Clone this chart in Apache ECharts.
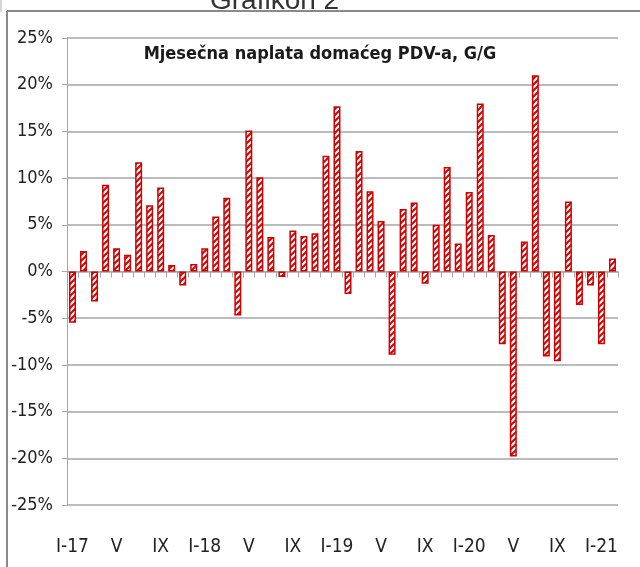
<!DOCTYPE html>
<html>
<head>
<meta charset="utf-8">
<script src="https://cdn.jsdelivr.net/npm/echarts@6/dist/echarts.min.js"></script>
<style>
    html, body { margin: 0; padding: 0; background: #fff; }
    #chart { width: 640px; height: 567px; }
</style>
</head>
<body>
<div id="chart"></div>
<script>
    // mjeseci od I-17 do II-21
    const months = [
        'I-17', 'II', 'III', 'IV', 'V', 'VI', 'VII', 'VIII', 'IX', 'X', 'XI', 'XII',
        'I-18', 'II', 'III', 'IV', 'V', 'VI', 'VII', 'VIII', 'IX', 'X', 'XI', 'XII',
        'I-19', 'II', 'III', 'IV', 'V', 'VI', 'VII', 'VIII', 'IX', 'X', 'XI', 'XII',
        'I-20', 'II', 'III', 'IV', 'V', 'VI', 'VII', 'VIII', 'IX', 'X', 'XI', 'XII',
        'I-21', 'II'
    ];
    // naplata PDV-a, G/G (%)
    const vatGrowth = [
        -5.5, 2.2, -3.2, 9.3, 2.5, 1.8, 11.7, 7.1, 9.0, 0.7, -1.5, 0.8,
        2.5, 5.9, 7.9, -4.7, 15.1, 10.1, 3.7, -0.6, 4.4, 3.8, 4.1, 12.4,
        17.7, -2.4, 12.9, 8.6, 5.4, -8.9, 6.7, 7.4, -1.3, 5.0, 11.2, 3.0,
        8.5, 18.0, 3.9, -7.8, -19.8, 3.2, 21.0, -9.1, -9.6, 7.5, -3.6, -1.5,
        -7.8, 1.4
    ];
    const yMin = -25, yMax = 25, yStep = 5;

    const fontNarrow = '"Liberation Sans Narrow", "DejaVu Sans Condensed", "Open Sans", sans-serif';

    // šrafura za stupce
    function makeHatch() {
        let c = document.createElement('canvas');
        c.width = 6;
        c.height = 6;
        let ctx = c.getContext('2d');
        ctx.fillStyle = '#ffffff';
        ctx.fillRect(0, 0, 6, 6);
        ctx.strokeStyle = '#d80000';
        ctx.lineWidth = 2;
        ctx.beginPath();
        ctx.moveTo(-1, 7); ctx.lineTo(7, -1);
        ctx.moveTo(-1, 1); ctx.lineTo(1, -1);
        ctx.moveTo(5, 7); ctx.lineTo(7, 5);
        ctx.stroke();
        return c;
    }

    let mChart = echarts.init(document.getElementById('chart'), null, { renderer: 'canvas' });
    let options = {
        animation: false,
        grid: { left: 67, right: 22, top: 38, bottom: 62 },
        graphic: [
            { type: 'line', shape: { x1: 7, y1: 11, x2: 640, y2: 11 }, style: { stroke: '#8a8a8a', lineWidth: 2 } },
            { type: 'line', shape: { x1: 7, y1: 11, x2: 7, y2: 567 }, style: { stroke: '#8a8a8a', lineWidth: 2 } },
            { type: 'line', shape: { x1: 1, y1: 0, x2: 1, y2: 12 }, style: { stroke: '#b0b0b0', lineWidth: 1 } },
            {
                type: 'text', left: 210, top: -13, z: -1,
                style: { text: 'Grafikon 2', fontSize: 28, fontFamily: '"Liberation Sans", Arial, sans-serif', fill: '#333' }
            },
            {
                type: 'text', left: 'center', top: 45,
                style: { text: 'Mjesečna naplata domaćeg PDV-a, G/G', fontSize: 18, fontWeight: 'bold', fontFamily: fontNarrow, fill: '#1a1a1a' }
            }
        ],
        xAxis: [
            {
                type: 'category',
                data: months,
                axisLine: { onZero: true, lineStyle: { color: '#a6a6a6', width: 1 } },
                axisTick: { show: true, interval: 0, length: 6, lineStyle: { color: '#a6a6a6' } },
                axisLabel: { show: false },
                splitLine: { show: false }
            },
            {
                type: 'category',
                data: months,
                position: 'bottom',
                axisLine: { show: false },
                axisTick: { show: false },
                axisLabel: {
                    interval: 3,
                    margin: 33,
                    fontSize: 19,
                    color: '#222',
                    fontFamily: fontNarrow
                }
            }
        ],
        yAxis: {
            type: 'value',
            min: yMin,
            max: yMax,
            interval: yStep,
            axisLine: { show: true, lineStyle: { color: '#a6a6a6' } },
            axisTick: { show: true, length: 5, lineStyle: { color: '#a6a6a6' } },
            axisLabel: {
                formatter: '{value}%',
                margin: 14,
                fontSize: 18,
                color: '#222',
                fontFamily: fontNarrow
            },
            splitLine: { show: true, lineStyle: { color: '#a6a6a6', width: 1.5 } }
        },
        series: [
            {
                type: 'bar',
                xAxisIndex: 0,
                data: vatGrowth,
                barWidth: 7,
                itemStyle: {
                    color: { image: makeHatch(), repeat: 'repeat' },
                    borderColor: '#d00000',
                    borderWidth: 1.5
                }
            }
        ]
    };
    mChart.setOption(options);
</script>
</body>
</html>
